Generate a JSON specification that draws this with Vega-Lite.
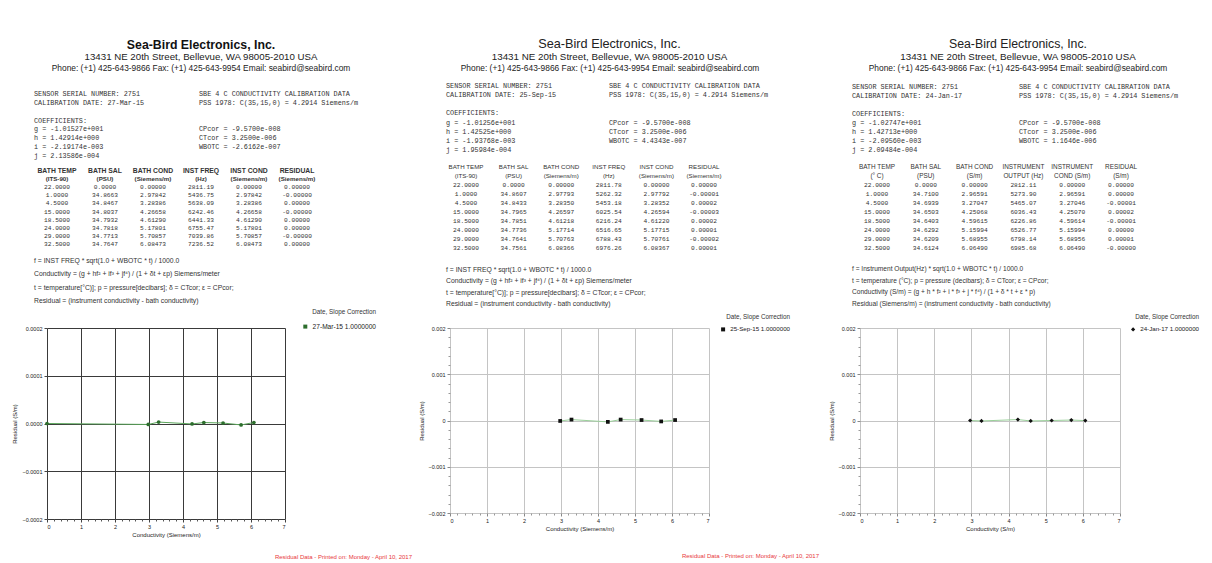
{
  "$schema": "https://vega.github.io/schema/vega-lite/v6.json",
  "background": "white",
  "padding": {"top": 38, "left": 11, "right": 0, "bottom": 0},
  "columns": 3,
  "spacing": {"row": 0, "column": 95},
  "bounds": "flush",
  "resolve": {"scale": {"color": "independent"}, "legend": {"color": "independent"}},
  "config": {
    "font": "Liberation Sans",
    "view": {"stroke": null},
    "axis": {"labelFont": "Liberation Sans", "titleFont": "Liberation Sans", "labelFontSize": 5.5, "titleFontSize": 6, "titleFontWeight": "normal", "labelColor": "#222", "titleColor": "#222"},
    "legend": {"labelFont": "Liberation Sans", "titleFont": "Liberation Sans"},
    "title": {"font": "Liberation Sans"}
  },
  "datasets": {
    "info1": [
      {"side": "center", "line": "phone", "text": "Phone: (+1) 425-643-9866 Fax: (+1) 425-643-9954 Email: seabird@seabird.com"},
      {"side": "left", "line": "serial", "text": "SENSOR SERIAL NUMBER: 2751"},
      {"side": "left", "line": "caldate", "text": "CALIBRATION DATE: 27-Mar-15"},
      {"side": "left", "line": "coef", "text": "COEFFICIENTS:"},
      {"side": "left", "line": "g", "text": "g =  -1.01527e+001"},
      {"side": "left", "line": "h", "text": "h =   1.42914e+000"},
      {"side": "left", "line": "i", "text": "i =  -2.19174e-003"},
      {"side": "left", "line": "j", "text": "j =   2.13586e-004"},
      {"side": "right", "line": "serial", "text": "SBE 4 C CONDUCTIVITY CALIBRATION DATA"},
      {"side": "right", "line": "caldate", "text": "PSS 1978: C(35,15,0) = 4.2914 Siemens/m"},
      {"side": "right", "line": "g", "text": "CPcor = -9.5700e-008"},
      {"side": "right", "line": "h", "text": "CTcor =  3.2500e-006"},
      {"side": "right", "line": "i", "text": "WBOTC = -2.6162e-007"}
    ],
    "info2": [
      {"side": "center", "line": "phone", "text": "Phone: (+1) 425-643-9866 Fax: (+1) 425-643-9954 Email: seabird@seabird.com"},
      {"side": "left", "line": "serial", "text": "SENSOR SERIAL NUMBER: 2751"},
      {"side": "left", "line": "caldate", "text": "CALIBRATION DATE: 25-Sep-15"},
      {"side": "left", "line": "coef", "text": "COEFFICIENTS:"},
      {"side": "left", "line": "g", "text": "g =  -1.01256e+001"},
      {"side": "left", "line": "h", "text": "h =   1.42525e+000"},
      {"side": "left", "line": "i", "text": "i =  -1.93768e-003"},
      {"side": "left", "line": "j", "text": "j =   1.95984e-004"},
      {"side": "right", "line": "serial", "text": "SBE 4 C CONDUCTIVITY CALIBRATION DATA"},
      {"side": "right", "line": "caldate", "text": "PSS 1978: C(35,15,0) = 4.2914 Siemens/m"},
      {"side": "right", "line": "g", "text": "CPcor = -9.5700e-008"},
      {"side": "right", "line": "h", "text": "CTcor =  3.2500e-006"},
      {"side": "right", "line": "i", "text": "WBOTC =  4.4343e-007"}
    ],
    "info3": [
      {"side": "center", "line": "phone", "text": "Phone: (+1) 425-643-9866 Fax: (+1) 425-643-9954 Email: seabird@seabird.com"},
      {"side": "left", "line": "serial", "text": "SENSOR SERIAL NUMBER: 2751"},
      {"side": "left", "line": "caldate", "text": "CALIBRATION DATE: 24-Jan-17"},
      {"side": "left", "line": "coef", "text": "COEFFICIENTS:"},
      {"side": "left", "line": "g", "text": "g =  -1.02747e+001"},
      {"side": "left", "line": "h", "text": "h =   1.42713e+000"},
      {"side": "left", "line": "i", "text": "i =  -2.09560e-003"},
      {"side": "left", "line": "j", "text": "j =   2.09484e-004"},
      {"side": "right", "line": "serial", "text": "SBE 4 C CONDUCTIVITY CALIBRATION DATA"},
      {"side": "right", "line": "caldate", "text": "PSS 1978: C(35,15,0) = 4.2914 Siemens/m"},
      {"side": "right", "line": "g", "text": "CPcor = -9.5700e-008"},
      {"side": "right", "line": "h", "text": "CTcor =  3.2500e-006"},
      {"side": "right", "line": "i", "text": "WBOTC =  1.1646e-006"}
    ],
    "tbl1": [
      {"row": "h1", "temp": "BATH TEMP", "sal": "BATH SAL", "cond": "BATH COND", "freq": "INST FREQ", "icond": "INST COND", "resid": "RESIDUAL"},
      {"row": "h2", "temp": "(ITS-90)", "sal": "(PSU)", "cond": "(Siemens/m)", "freq": "(Hz)", "icond": "(Siemens/m)", "resid": "(Siemens/m)"},
      {"row": "r1", "temp": "22.0000", "sal": "0.0000", "cond": "0.00000", "freq": "2811.19", "icond": "0.00000", "resid": "0.00000"},
      {"row": "r2", "temp": "1.0000", "sal": "34.8663", "cond": "2.97842", "freq": "5436.75", "icond": "2.97842", "resid": "-0.00000"},
      {"row": "r3", "temp": "4.5000", "sal": "34.8467", "cond": "3.28386", "freq": "5638.09", "icond": "3.28386", "resid": "0.00000"},
      {"row": "r4", "temp": "15.0000", "sal": "34.8037", "cond": "4.26658", "freq": "6242.46", "icond": "4.26658", "resid": "-0.00000"},
      {"row": "r5", "temp": "18.5000", "sal": "34.7932", "cond": "4.61290", "freq": "6441.33", "icond": "4.61290", "resid": "0.00000"},
      {"row": "r6", "temp": "24.0000", "sal": "34.7818", "cond": "5.17801", "freq": "6755.47", "icond": "5.17801", "resid": "0.00000"},
      {"row": "r7", "temp": "29.0000", "sal": "34.7713", "cond": "5.70857", "freq": "7039.86", "icond": "5.70857", "resid": "-0.00000"},
      {"row": "r8", "temp": "32.5000", "sal": "34.7647", "cond": "6.08473", "freq": "7236.52", "icond": "6.08473", "resid": "0.00000"}
    ],
    "tbl2": [
      {"row": "h1", "temp": "BATH TEMP", "sal": "BATH SAL", "cond": "BATH COND", "freq": "INST FREQ", "icond": "INST COND", "resid": "RESIDUAL"},
      {"row": "h2", "temp": "(ITS-90)", "sal": "(PSU)", "cond": "(Siemens/m)", "freq": "(Hz)", "icond": "(Siemens/m)", "resid": "(Siemens/m)"},
      {"row": "r1", "temp": "22.0000", "sal": "0.0000", "cond": "0.00000", "freq": "2811.78", "icond": "0.00000", "resid": "0.00000"},
      {"row": "r2", "temp": "1.0000", "sal": "34.8607", "cond": "2.97793", "freq": "5262.32", "icond": "2.97792", "resid": "-0.00001"},
      {"row": "r3", "temp": "4.5000", "sal": "34.8433", "cond": "3.28350", "freq": "5453.18", "icond": "3.28352", "resid": "0.00002"},
      {"row": "r4", "temp": "15.0000", "sal": "34.7965", "cond": "4.26597", "freq": "6025.54", "icond": "4.26594", "resid": "-0.00003"},
      {"row": "r5", "temp": "18.5000", "sal": "34.7851", "cond": "4.61218", "freq": "6216.24", "icond": "4.61220", "resid": "0.00002"},
      {"row": "r6", "temp": "24.0000", "sal": "34.7736", "cond": "5.17714", "freq": "6516.65", "icond": "5.17715", "resid": "0.00001"},
      {"row": "r7", "temp": "29.0000", "sal": "34.7641", "cond": "5.70763", "freq": "6788.43", "icond": "5.70761", "resid": "-0.00002"},
      {"row": "r8", "temp": "32.5000", "sal": "34.7561", "cond": "6.08366", "freq": "6976.26", "icond": "6.08367", "resid": "0.00001"}
    ],
    "tbl3": [
      {"row": "h1", "temp": "BATH TEMP", "sal": "BATH SAL", "cond": "BATH COND", "freq": "INSTRUMENT", "icond": "INSTRUMENT", "resid": "RESIDUAL"},
      {"row": "h2", "temp": "(° C)", "sal": "(PSU)", "cond": "(S/m)", "freq": "OUTPUT (Hz)", "icond": "COND (S/m)", "resid": "(S/m)"},
      {"row": "r1", "temp": "22.0000", "sal": "0.0000", "cond": "0.00000", "freq": "2812.11", "icond": "0.00000", "resid": "0.00000"},
      {"row": "r2", "temp": "1.0000", "sal": "34.7100", "cond": "2.96591", "freq": "5273.90", "icond": "2.96591", "resid": "0.00000"},
      {"row": "r3", "temp": "4.5000", "sal": "34.6939", "cond": "3.27047", "freq": "5465.07", "icond": "3.27046", "resid": "-0.00001"},
      {"row": "r4", "temp": "15.0000", "sal": "34.6503", "cond": "4.25068", "freq": "6036.43", "icond": "4.25070", "resid": "0.00002"},
      {"row": "r5", "temp": "18.5000", "sal": "34.6403", "cond": "4.59615", "freq": "6226.86", "icond": "4.59614", "resid": "-0.00001"},
      {"row": "r6", "temp": "24.0000", "sal": "34.6292", "cond": "5.15994", "freq": "6526.77", "icond": "5.15994", "resid": "0.00000"},
      {"row": "r7", "temp": "29.0000", "sal": "34.6209", "cond": "5.68955", "freq": "6798.14", "icond": "5.68956", "resid": "0.00001"},
      {"row": "r8", "temp": "32.5000", "sal": "34.6124", "cond": "6.06490", "freq": "6985.68", "icond": "6.06490", "resid": "-0.00000"}
    ],
    "notes1": [
      {"side": "left", "line": "n1", "text": "f = INST FREQ * sqrt(1.0 + WBOTC * t) / 1000.0"},
      {"side": "left", "line": "n2", "text": "Conductivity = (g + hf² + if³ + jf⁴) / (1 + δt + εp) Siemens/meter"},
      {"side": "left", "line": "n3", "text": "t = temperature[°C)]; p = pressure[decibars]; δ = CTcor; ε = CPcor;"},
      {"side": "left", "line": "n4", "text": "Residual = (instrument conductivity - bath conductivity)"}
    ],
    "notes2": [
      {"side": "left", "line": "n1", "text": "f = INST FREQ * sqrt(1.0 + WBOTC * t) / 1000.0"},
      {"side": "left", "line": "n2", "text": "Conductivity = (g + hf² + if³ + jf⁴) / (1 + δt + εp) Siemens/meter"},
      {"side": "left", "line": "n3", "text": "t = temperature[°C)]; p = pressure[decibars]; δ = CTcor; ε = CPcor;"},
      {"side": "left", "line": "n4", "text": "Residual = (instrument conductivity - bath conductivity)"}
    ],
    "notes3": [
      {"side": "left", "line": "n1", "text": "f = Instrument Output(Hz) * sqrt(1.0 + WBOTC * t) / 1000.0"},
      {"side": "left", "line": "n2", "text": "t = temperature (°C);   p = pressure (decibars);   δ = CTcor;   ε = CPcor;"},
      {"side": "left", "line": "n3", "text": "Conductivity (S/m) = (g + h * f² + i * f³ + j * f⁴) / (1 + δ * t + ε * p)"},
      {"side": "left", "line": "n4", "text": "Residual (Siemens/m) = (instrument conductivity - bath conductivity)"}
    ],
    "pts1": [
      {"cond": 0, "resid": 0},
      {"cond": 2.97842, "resid": -0.000002},
      {"cond": 3.28386, "resid": 0.000003},
      {"cond": 4.26658, "resid": -0.000001},
      {"cond": 4.6129, "resid": 0.000002},
      {"cond": 5.17801, "resid": 0.000001},
      {"cond": 5.70857, "resid": -0.000003},
      {"cond": 6.08473, "resid": 0.000002}
    ],
    "pts2": [
      {"cond": 2.97793, "resid": -0.00001},
      {"cond": 3.2835, "resid": 0.00002},
      {"cond": 4.26597, "resid": -0.00003},
      {"cond": 4.61218, "resid": 0.00002},
      {"cond": 5.17714, "resid": 0.00001},
      {"cond": 5.70763, "resid": -0.00002},
      {"cond": 6.08366, "resid": 0.00001}
    ],
    "pts3": [
      {"cond": 2.96591, "resid": 0},
      {"cond": 3.27047, "resid": -0.00001},
      {"cond": 4.25068, "resid": 0.00002},
      {"cond": 4.59615, "resid": -0.00001},
      {"cond": 5.15994, "resid": 0},
      {"cond": 5.68955, "resid": 0.00001},
      {"cond": 6.0649, "resid": -0.000002}
    ]
  },
  "concat": [
    {
      "width": 308,
      "height": 246,
      "title": {"text": "Sea-Bird Electronics, Inc.", "subtitle": "13431 NE 20th Street, Bellevue, WA 98005-2010 USA", "fontSize": 12.3, "fontWeight": "bold", "color": "#111", "subtitleFontSize": 9.7, "subtitleColor": "#222", "subtitlePadding": 1, "anchor": "middle", "offset": 2.5},
      "layer": [
        {
          "data": {"name": "info1"},
          "transform": [{"filter": "datum.side == 'center'"}],
          "mark": {"type": "text", "align": "center", "fontSize": 8.4, "color": "#222"},
          "encoding": {
            "x": {"field": "side", "type": "nominal", "scale": {"type": "point", "domain": ["center"], "range": [154, 154], "padding": 0}, "axis": null},
            "y": {"field": "line", "type": "nominal", "scale": {"type": "point", "domain": ["phone"], "range": [-14, -14], "padding": 0}, "axis": null},
            "text": {"field": "text"}
          }
        },
        {
          "data": {"name": "info1"},
          "transform": [{"filter": "datum.side != 'center'"}],
          "mark": {"type": "text", "align": "left", "font": "Liberation Mono", "fontSize": 6.8, "color": "#333"},
          "encoding": {
            "x": {"field": "side", "type": "nominal", "scale": {"type": "point", "domain": ["left", "right"], "range": [-13, 152], "padding": 0}, "axis": null},
            "y": {"field": "line", "type": "nominal", "scale": {"type": "point", "domain": ["serial", "caldate", "gap", "coef", "g", "h", "i", "j"], "range": [12, 74], "padding": 0}, "axis": null},
            "text": {"field": "text"}
          }
        },
        {
          "data": {"name": "tbl1"},
          "transform": [{"fold": ["temp", "sal", "cond", "freq", "icond", "resid"]}, {"filter": "datum.row == 'h1'"}],
          "mark": {"type": "text", "align": "center", "fontSize": 6.8, "fontWeight": "bold", "color": "#333"},
          "encoding": {
            "x": {"field": "key", "type": "nominal", "scale": {"type": "point", "domain": ["temp", "sal", "cond", "freq", "icond", "resid"], "range": [10, 250], "padding": 0}, "axis": null},
            "y": {"field": "row", "type": "nominal", "scale": {"type": "point", "domain": ["h1", "h2", "r1", "r2", "r3", "r4", "r5", "r6", "r7", "r8"], "range": [89, 162], "padding": 0}, "axis": null},
            "text": {"field": "value"}
          }
        },
        {
          "data": {"name": "tbl1"},
          "transform": [{"fold": ["temp", "sal", "cond", "freq", "icond", "resid"]}, {"filter": "datum.row == 'h2'"}],
          "mark": {"type": "text", "align": "center", "fontSize": 6.2, "fontWeight": "bold", "color": "#333"},
          "encoding": {
            "x": {"field": "key", "type": "nominal", "scale": {"type": "point", "domain": ["temp", "sal", "cond", "freq", "icond", "resid"], "range": [10, 250], "padding": 0}, "axis": null},
            "y": {"field": "row", "type": "nominal", "scale": {"type": "point", "domain": ["h1", "h2", "r1", "r2", "r3", "r4", "r5", "r6", "r7", "r8"], "range": [89, 162], "padding": 0}, "axis": null},
            "text": {"field": "value"}
          }
        },
        {
          "data": {"name": "tbl1"},
          "transform": [{"fold": ["temp", "sal", "cond", "freq", "icond", "resid"]}, {"filter": "datum.row != 'h1' && datum.row != 'h2'"}],
          "mark": {"type": "text", "align": "center", "font": "Liberation Mono", "fontSize": 6.2, "color": "#333"},
          "encoding": {
            "x": {"field": "key", "type": "nominal", "scale": {"type": "point", "domain": ["temp", "sal", "cond", "freq", "icond", "resid"], "range": [10, 250], "padding": 0}, "axis": null},
            "y": {"field": "row", "type": "nominal", "scale": {"type": "point", "domain": ["h1", "h2", "r1", "r2", "r3", "r4", "r5", "r6", "r7", "r8"], "range": [89, 162], "padding": 0}, "axis": null},
            "text": {"field": "value"}
          }
        },
        {
          "data": {"name": "notes1"},
          "mark": {"type": "text", "align": "left", "fontSize": 6.8, "color": "#333"},
          "encoding": {
            "x": {"field": "side", "type": "nominal", "scale": {"type": "point", "domain": ["left", "right"], "range": [-13, 152], "padding": 0}, "axis": null},
            "y": {"field": "line", "type": "nominal", "scale": {"type": "point", "domain": ["n1", "n2", "n3", "n4"], "range": [179, 219], "padding": 0}, "axis": null},
            "text": {"field": "text"}
          }
        }
      ],
      "resolve": {"scale": {"x": "independent", "y": "independent"}}
    },
    {
      "width": 315,
      "height": 246,
      "title": {"text": "Sea-Bird Electronics, Inc.", "subtitle": "13431 NE 20th Street, Bellevue, WA 98005-2010 USA", "fontSize": 12.7, "fontWeight": "normal", "color": "#222", "subtitleFontSize": 9.8, "subtitleColor": "#222", "subtitlePadding": 1, "anchor": "middle", "offset": 2.5, "dx": 2},
      "layer": [
        {
          "data": {"name": "info2"},
          "transform": [{"filter": "datum.side == 'center'"}],
          "mark": {"type": "text", "align": "center", "fontSize": 8.4, "color": "#222"},
          "encoding": {
            "x": {"field": "side", "type": "nominal", "scale": {"type": "point", "domain": ["center"], "range": [160, 160], "padding": 0}, "axis": null},
            "y": {"field": "line", "type": "nominal", "scale": {"type": "point", "domain": ["phone"], "range": [-14, -14], "padding": 0}, "axis": null},
            "text": {"field": "text"}
          }
        },
        {
          "data": {"name": "info2"},
          "transform": [{"filter": "datum.side != 'center'"}],
          "mark": {"type": "text", "align": "left", "font": "Liberation Mono", "fontSize": 6.8, "color": "#333"},
          "encoding": {
            "x": {"field": "side", "type": "nominal", "scale": {"type": "point", "domain": ["left", "right"], "range": [-4, 159], "padding": 0}, "axis": null},
            "y": {"field": "line", "type": "nominal", "scale": {"type": "point", "domain": ["serial", "caldate", "gap", "coef", "g", "h", "i", "j"], "range": [4, 68], "padding": 0}, "axis": null},
            "text": {"field": "text"}
          }
        },
        {
          "data": {"name": "tbl2"},
          "transform": [{"fold": ["temp", "sal", "cond", "freq", "icond", "resid"]}, {"filter": "datum.row == 'h1' || datum.row == 'h2'"}],
          "mark": {"type": "text", "align": "center", "fontSize": 6.2, "color": "#333"},
          "encoding": {
            "x": {"field": "key", "type": "nominal", "scale": {"type": "point", "domain": ["temp", "sal", "cond", "freq", "icond", "resid"], "range": [16, 254], "padding": 0}, "axis": null},
            "y": {"field": "row", "type": "nominal", "scale": {"type": "point", "domain": ["h1", "h2", "r1", "r2", "r3", "r4", "r5", "r6", "r7", "r8"], "range": [85, 166], "padding": 0}, "axis": null},
            "text": {"field": "value"}
          }
        },
        {
          "data": {"name": "tbl2"},
          "transform": [{"fold": ["temp", "sal", "cond", "freq", "icond", "resid"]}, {"filter": "datum.row != 'h1' && datum.row != 'h2'"}],
          "mark": {"type": "text", "align": "center", "font": "Liberation Mono", "fontSize": 6.2, "color": "#333"},
          "encoding": {
            "x": {"field": "key", "type": "nominal", "scale": {"type": "point", "domain": ["temp", "sal", "cond", "freq", "icond", "resid"], "range": [16, 254], "padding": 0}, "axis": null},
            "y": {"field": "row", "type": "nominal", "scale": {"type": "point", "domain": ["h1", "h2", "r1", "r2", "r3", "r4", "r5", "r6", "r7", "r8"], "range": [85, 166], "padding": 0}, "axis": null},
            "text": {"field": "value"}
          }
        },
        {
          "data": {"name": "notes2"},
          "mark": {"type": "text", "align": "left", "fontSize": 6.8, "color": "#333"},
          "encoding": {
            "x": {"field": "side", "type": "nominal", "scale": {"type": "point", "domain": ["left", "right"], "range": [-4, 159], "padding": 0}, "axis": null},
            "y": {"field": "line", "type": "nominal", "scale": {"type": "point", "domain": ["n1", "n2", "n3", "n4"], "range": [188, 222], "padding": 0}, "axis": null},
            "text": {"field": "text"}
          }
        }
      ],
      "resolve": {"scale": {"x": "independent", "y": "independent"}}
    },
    {
      "width": 316,
      "height": 246,
      "title": {"text": "Sea-Bird Electronics, Inc.", "subtitle": "13431 NE 20th Street, Bellevue, WA 98005-2010 USA", "fontSize": 12.3, "fontWeight": "normal", "color": "#222", "subtitleFontSize": 9.8, "subtitleColor": "#222", "subtitlePadding": 1, "anchor": "middle", "offset": 2.5},
      "layer": [
        {
          "data": {"name": "info3"},
          "transform": [{"filter": "datum.side == 'center'"}],
          "mark": {"type": "text", "align": "center", "fontSize": 8.4, "color": "#222"},
          "encoding": {
            "x": {"field": "side", "type": "nominal", "scale": {"type": "point", "domain": ["center"], "range": [158, 158], "padding": 0}, "axis": null},
            "y": {"field": "line", "type": "nominal", "scale": {"type": "point", "domain": ["phone"], "range": [-14, -14], "padding": 0}, "axis": null},
            "text": {"field": "text"}
          }
        },
        {
          "data": {"name": "info3"},
          "transform": [{"filter": "datum.side != 'center'"}],
          "mark": {"type": "text", "align": "left", "font": "Liberation Mono", "fontSize": 6.8, "color": "#333"},
          "encoding": {
            "x": {"field": "side", "type": "nominal", "scale": {"type": "point", "domain": ["left", "right"], "range": [-8, 159], "padding": 0}, "axis": null},
            "y": {"field": "line", "type": "nominal", "scale": {"type": "point", "domain": ["serial", "caldate", "gap", "coef", "g", "h", "i", "j"], "range": [5, 68], "padding": 0}, "axis": null},
            "text": {"field": "text"}
          }
        },
        {
          "data": {"name": "tbl3"},
          "transform": [{"fold": ["temp", "sal", "cond", "freq", "icond", "resid"]}, {"filter": "datum.row == 'h1' || datum.row == 'h2'"}],
          "mark": {"type": "text", "align": "center", "fontSize": 6.4, "color": "#333"},
          "encoding": {
            "x": {"field": "key", "type": "nominal", "scale": {"type": "point", "domain": ["temp", "sal", "cond", "freq", "icond", "resid"], "range": [17, 261], "padding": 0}, "axis": null},
            "y": {"field": "row", "type": "nominal", "scale": {"type": "point", "domain": ["h1", "h2", "r1", "r2", "r3", "r4", "r5", "r6", "r7", "r8"], "range": [85, 166], "padding": 0}, "axis": null},
            "text": {"field": "value"}
          }
        },
        {
          "data": {"name": "tbl3"},
          "transform": [{"fold": ["temp", "sal", "cond", "freq", "icond", "resid"]}, {"filter": "datum.row != 'h1' && datum.row != 'h2'"}],
          "mark": {"type": "text", "align": "center", "font": "Liberation Mono", "fontSize": 6.2, "color": "#333"},
          "encoding": {
            "x": {"field": "key", "type": "nominal", "scale": {"type": "point", "domain": ["temp", "sal", "cond", "freq", "icond", "resid"], "range": [17, 261], "padding": 0}, "axis": null},
            "y": {"field": "row", "type": "nominal", "scale": {"type": "point", "domain": ["h1", "h2", "r1", "r2", "r3", "r4", "r5", "r6", "r7", "r8"], "range": [85, 166], "padding": 0}, "axis": null},
            "text": {"field": "value"}
          }
        },
        {
          "data": {"name": "notes3"},
          "mark": {"type": "text", "align": "left", "fontSize": 6.6, "color": "#333"},
          "encoding": {
            "x": {"field": "side", "type": "nominal", "scale": {"type": "point", "domain": ["left", "right"], "range": [-8, 159], "padding": 0}, "axis": null},
            "y": {"field": "line", "type": "nominal", "scale": {"type": "point", "domain": ["n1", "n2", "n3", "n4"], "range": [187, 222], "padding": 0}, "axis": null},
            "text": {"field": "text"}
          }
        }
      ],
      "resolve": {"scale": {"x": "independent", "y": "independent"}}
    },
    {
      "width": 238,
      "height": 191,
      "data": {"name": "pts1"},
      "title": {"text": "Residual Data - Printed on: Monday - April 10, 2017", "orient": "bottom", "anchor": "end", "frame": "group", "color": "#e8383d", "fontSize": 6, "fontWeight": "normal", "dx": 127, "offset": 16},
      "layer": [
        {
          "mark": {"type": "line", "color": "#5aa55a", "strokeWidth": 1},
          "encoding": {
            "x": {"field": "cond", "type": "quantitative", "scale": {"domain": [0, 7], "nice": false, "zero": false}, "axis": {"values": [0, 1, 2, 3, 4, 5, 6, 7], "format": "d", "title": "Conductivity (Siemens/m)", "grid": true, "gridColor": "#3a3a3a", "gridWidth": 1, "domain": false, "tickColor": "#444", "tickSize": 3, "labelPadding": 2, "titlePadding": 2}},
            "y": {"field": "resid", "type": "quantitative", "scale": {"domain": [-0.0002, 0.0002], "nice": false, "zero": false}, "axis": {"values": [-0.0002, -0.0001, 0, 0.0001, 0.0002], "format": ".4f", "title": "Residual (S/m)", "grid": true, "gridColor": "#3a3a3a", "gridWidth": 1, "domain": false, "tickColor": "#444", "tickSize": 3, "labelPadding": 2, "titlePadding": 4}}
          }
        },
        {
          "mark": {"type": "point", "filled": true, "shape": "circle", "size": 14, "opacity": 1},
          "encoding": {
            "x": {"field": "cond", "type": "quantitative", "axis": {"orient": "bottom", "values": [0.2, 0.4, 0.6, 0.8, 1.2, 1.4, 1.6, 1.8, 2.2, 2.4, 2.6, 2.8, 3.2, 3.4, 3.6, 3.8, 4.2, 4.4, 4.6, 4.8, 5.2, 5.4, 5.6, 5.8, 6.2, 6.4, 6.6, 6.8], "labels": false, "grid": false, "domain": false, "tickSize": 2, "tickColor": "#555", "title": null}},
            "y": {"field": "resid", "type": "quantitative", "axis": null},
            "color": {"datum": "27-Mar-15 1.0000000", "type": "nominal", "scale": {"range": ["#2d6e2d"]}, "legend": {"title": "Date, Slope Correction", "orient": "none", "legendX": 255, "legendY": -19, "titleAnchor": "end", "titleFontSize": 6.3, "titleFontWeight": "normal", "titleColor": "#333", "labelFontSize": 6.6, "labelColor": "#222", "symbolType": "square", "symbolSize": 16, "titlePadding": 8, "padding": 0}}
          }
        }
      ],
      "resolve": {"axis": {"x": "independent", "y": "independent"}}
    },
    {
      "width": 259,
      "height": 185,
      "data": {"name": "pts2"},
      "title": {"text": "Residual Data - Printed on: Monday - April 10, 2017", "orient": "bottom", "anchor": "end", "frame": "group", "color": "#e8383d", "fontSize": 6, "fontWeight": "normal", "dx": 110, "offset": 21},
      "layer": [
        {
          "mark": {"type": "line", "color": "#9ad09a", "strokeWidth": 1},
          "encoding": {
            "x": {"field": "cond", "type": "quantitative", "scale": {"domain": [0, 7], "nice": false, "zero": false}, "axis": {"values": [0, 1, 2, 3, 4, 5, 6, 7], "format": "d", "title": "Conductivity (Siemens/m)", "grid": true, "gridColor": "#c4c4c4", "domain": false, "tickColor": "#888", "tickSize": 3, "labelPadding": 2, "titlePadding": 2}},
            "y": {"field": "resid", "type": "quantitative", "scale": {"domain": [-0.002, 0.002], "nice": false, "zero": false}, "axis": {"values": [-0.002, -0.001, 0, 0.001, 0.002], "format": "~g", "title": "Residual (S/m)", "grid": true, "gridColor": "#c4c4c4", "domain": false, "tickColor": "#888", "tickSize": 3, "labelPadding": 2, "titlePadding": 4}}
          }
        },
        {
          "mark": {"type": "point", "filled": true, "shape": "square", "size": 14, "opacity": 1},
          "encoding": {
            "x": {"field": "cond", "type": "quantitative", "axis": {"orient": "bottom", "values": [0.2, 0.4, 0.6, 0.8, 1.2, 1.4, 1.6, 1.8, 2.2, 2.4, 2.6, 2.8, 3.2, 3.4, 3.6, 3.8, 4.2, 4.4, 4.6, 4.8, 5.2, 5.4, 5.6, 5.8, 6.2, 6.4, 6.6, 6.8], "labels": false, "grid": false, "domain": false, "tickSize": 2, "tickColor": "#999", "title": null}},
            "y": {"field": "resid", "type": "quantitative", "axis": {"orient": "left", "values": [-0.0018, -0.0016, -0.0014, -0.0012, -0.0008, -0.0006, -0.0004, -0.0002, 0.0002, 0.0004, 0.0006, 0.0008, 0.0012, 0.0014, 0.0016, 0.0018], "labels": false, "grid": false, "domain": false, "tickSize": 2, "tickColor": "#999", "title": null}},
            "color": {"datum": "25-Sep-15 1.0000000", "type": "nominal", "scale": {"range": ["#111111"]}, "legend": {"title": "Date, Slope Correction", "orient": "none", "legendX": 270, "legendY": -14, "titleAnchor": "end", "titleFontSize": 6.3, "titleFontWeight": "normal", "titleColor": "#333", "labelFontSize": 6.2, "labelColor": "#222", "symbolType": "square", "symbolSize": 16, "titlePadding": 6, "padding": 0}}
          }
        }
      ],
      "resolve": {"axis": {"x": "independent", "y": "independent"}}
    },
    {
      "width": 260,
      "height": 185,
      "data": {"name": "pts3"},
      "layer": [
        {
          "mark": {"type": "line", "color": "#9ad09a", "strokeWidth": 1},
          "encoding": {
            "x": {"field": "cond", "type": "quantitative", "scale": {"domain": [0, 7], "nice": false, "zero": false}, "axis": {"values": [0, 1, 2, 3, 4, 5, 6, 7], "format": "d", "title": "Conductivity (S/m)", "grid": true, "gridColor": "#c4c4c4", "domain": false, "tickColor": "#888", "tickSize": 3, "labelPadding": 2, "titlePadding": 2}},
            "y": {"field": "resid", "type": "quantitative", "scale": {"domain": [-0.002, 0.002], "nice": false, "zero": false}, "axis": {"values": [-0.002, -0.001, 0, 0.001, 0.002], "format": "~g", "title": "Residual (S/m)", "grid": true, "gridColor": "#c4c4c4", "domain": false, "tickColor": "#888", "tickSize": 3, "labelPadding": 2, "titlePadding": 4}}
          }
        },
        {
          "mark": {"type": "point", "filled": true, "shape": "diamond", "size": 18, "opacity": 1},
          "encoding": {
            "x": {"field": "cond", "type": "quantitative", "axis": {"orient": "bottom", "values": [0.2, 0.4, 0.6, 0.8, 1.2, 1.4, 1.6, 1.8, 2.2, 2.4, 2.6, 2.8, 3.2, 3.4, 3.6, 3.8, 4.2, 4.4, 4.6, 4.8, 5.2, 5.4, 5.6, 5.8, 6.2, 6.4, 6.6, 6.8], "labels": false, "grid": false, "domain": false, "tickSize": 2, "tickColor": "#999", "title": null}},
            "y": {"field": "resid", "type": "quantitative", "axis": {"orient": "left", "values": [-0.0018, -0.0016, -0.0014, -0.0012, -0.0008, -0.0006, -0.0004, -0.0002, 0.0002, 0.0004, 0.0006, 0.0008, 0.0012, 0.0014, 0.0016, 0.0018], "labels": false, "grid": false, "domain": false, "tickSize": 2, "tickColor": "#999", "title": null}},
            "color": {"datum": "24-Jan-17 1.0000000", "type": "nominal", "scale": {"range": ["#111111"]}, "legend": {"title": "Date, Slope Correction", "orient": "none", "legendX": 270, "legendY": -14, "titleAnchor": "end", "titleFontSize": 6.3, "titleFontWeight": "normal", "titleColor": "#333", "labelFontSize": 6.2, "labelColor": "#222", "symbolType": "diamond", "symbolSize": 18, "titlePadding": 6, "padding": 0}}
          }
        }
      ],
      "resolve": {"axis": {"x": "independent", "y": "independent"}}
    }
  ]
}
